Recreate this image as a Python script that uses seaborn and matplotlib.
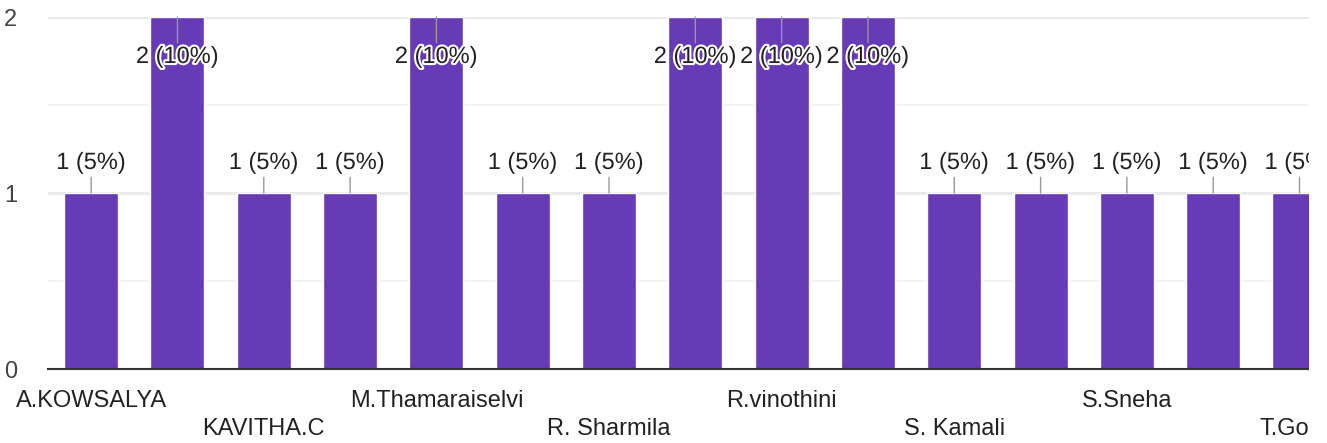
import matplotlib
matplotlib.use("Agg")
import matplotlib.pyplot as plt
import matplotlib.patheffects as pe
from matplotlib.patches import Rectangle
import numpy as np, pandas as pd
import seaborn as sns

# responses per name (hidden tick labels are not shown in the chart)
respondents = [
    "A.KOWSALYA", "resp_2", "KAVITHA.C", "resp_4", "M.Thamaraiselvi",
    "resp_6", "R. Sharmila", "resp_8", "R.vinothini", "resp_10",
    "S. Kamali", "resp_12", "S.Sneha", "resp_14", "T.Gowri",
]
counts = [1, 2, 1, 1, 2, 1, 1, 2, 2, 2, 1, 1, 1, 1, 1]
total = 20
shown = [0, 2, 4, 6, 8, 10, 12, 14]   # every other label is drawn

df = pd.DataFrame(dict(respondent=respondents, count=counts))

sns.set_style("white")
plt.rcParams["font.family"] = ["Liberation Sans", "DejaVu Sans"]

W, H = 1327, 443
fig = plt.figure(figsize=(W / 100, H / 100), dpi=100)
ax = fig.add_axes([47.5 / W, (H - 369) / H, (1309 - 47.5) / W, 352 / H])

sns.barplot(data=df, x="respondent", y="count", order=respondents,
            color="#673ab7", saturation=1, width=0.626, errorbar=None, ax=ax,
            zorder=2)

ax.set_xlim(-0.506, 14.11)
ax.set_ylim(0, 2)
ax.set_xlabel("")
ax.set_ylabel("")

ax.set_yticks([0, 1, 2])
ax.set_yticks([0.5, 1.5], minor=True)
ax.set_yticklabels(["0", "1", "2"], color="#444444", fontsize=17)
ax.grid(axis="y", which="major", color="#ebebeb", lw=2.2, zorder=0)
ax.grid(axis="y", which="minor", color="#f4f4f4", lw=1.5, zorder=0)
ax.grid(axis="x", visible=False)
ax.set_axisbelow(True)

labels = []
for i, name in enumerate(respondents):
    if i not in shown:
        labels.append("")
    elif (i // 2) % 2 == 1:
        labels.append("\n" + name)
    else:
        labels.append(name)
ax.set_xticks(range(len(respondents)))
ax.set_xticklabels(labels, color="#222222", fontsize=17, linespacing=1.38)
ax.tick_params(axis="x", length=0, pad=15)
ax.tick_params(axis="y", length=0, pad=22, which="both")

for s in ["top", "right", "left"]:
    ax.spines[s].set_visible(False)
ax.spines["bottom"].set_color("#333333")
ax.spines["bottom"].set_linewidth(1.5)
ax.spines["bottom"].set_zorder(5)

top = ax.get_ylim()[1]
for i, v in enumerate(counts):
    pct = round(v / total * 100)
    off = -40 if v >= top else 30
    ax.annotate(f"{v} ({pct}%)", xy=(i, v), xytext=(0, off),
                textcoords="offset pixels", ha="center", va="center",
                fontsize=17, color="#222222", zorder=6,
                path_effects=[pe.withStroke(linewidth=3, foreground="white")],
                arrowprops=dict(arrowstyle="-", color="#999999", lw=1.0,
                                shrinkA=0, shrinkB=0))

# chart is cut off at the right edge
fig.add_artist(Rectangle((1309 / W, 0), 1, 1, transform=fig.transFigure,
                         facecolor="white", edgecolor="none", zorder=100))

fig.savefig("out.png", dpi=100, facecolor="white")
